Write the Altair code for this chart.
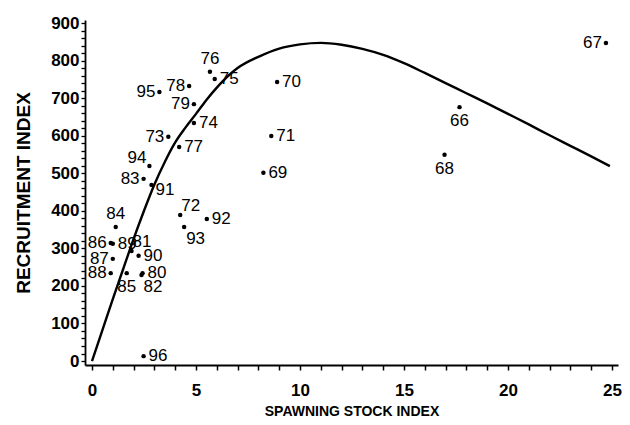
import altair as alt
import pandas as pd

# ---- data ----
years = ["67", "66", "68", "70", "71", "69", "76", "75", "95", "78", "79", "74",
         "73", "77", "94", "83", "91", "84", "72", "92", "93", "86", "89", "81",
         "90", "87", "88", "85", "80", "82", "96"]
spawning = [24.71, 17.67, 16.95, 8.90, 8.62, 8.24, 5.67, 5.90, 3.24, 4.67, 4.90, 4.90,
            3.67, 4.19, 2.76, 2.48, 2.86, 1.14, 4.24, 5.52, 4.43, 0.90, 1.00, 1.90,
            2.24, 1.00, 0.90, 1.67, 2.43, 2.38, 2.48]
recruitment = [847, 676, 549, 743, 599, 501, 770, 751, 716, 732, 684, 634,
               597, 570, 519, 485, 469, 357, 389, 378, 357, 314, 312, 293,
               280, 272, 234, 234, 234, 229, 13]

curve_S = [0, 0.5, 1, 1.5, 2, 2.5, 3, 3.5, 4, 4.5, 5, 5.5, 6, 7, 8, 9, 10, 11,
           12, 13, 14, 15, 16, 17, 18, 19, 20, 21, 22, 23, 24, 24.9]
curve_R = [0, 82, 165, 245, 325, 400, 470, 530, 582, 622, 658, 695, 728, 780,
           810, 832, 843, 847, 842, 831, 815, 793, 767, 740, 713, 686, 658, 630,
           601, 573, 545, 519]

x_major = [0, 5, 10, 15, 20, 25]
y_major = [0, 100, 200, 300, 400, 500, 600, 700, 800, 900]

# label placement groups (which side of its dot each year label sits)
left_labels = ["67", "95", "78", "79", "73", "83", "86", "87", "88"]
right_labels = ["70", "71", "69", "75", "74", "77", "92", "90", "80", "96", "89"]
above_labels = ["76", "84"]
below_labels = ["66", "68", "85"]
upper_left_labels = ["94"]
upper_right_labels = ["72", "81"]
lower_right_labels = ["93", "82"]
right_low_labels = ["91"]

pts = pd.DataFrame({"year": years, "S": spawning, "R": recruitment})
curve = pd.DataFrame({"S": curve_S, "R": curve_R})

x_ticks = list(range(0, 26))          # minor ticks every unit
y_ticks = list(range(0, 901, 20))     # minor ticks every 20

FONT = "Liberation Sans"

xscale = alt.Scale(domain=[-0.337, 25.29], nice=False, zero=False)
yscale = alt.Scale(domain=[-10.6, 908], nice=False, zero=False)

x_label_expr = "indexof([" + ",".join(str(v) for v in x_major) + "], datum.value) >= 0 ? datum.label : ''"
y_label_expr = "indexof([" + ",".join(str(v) for v in y_major) + "], datum.value) >= 0 ? datum.label : ''"

xaxis = alt.Axis(
    values=x_ticks,
    labelExpr=x_label_expr,
    labelOverlap=False,
    title="SPAWNING STOCK INDEX",
    titleFont=FONT, titleFontSize=14, titleFontWeight="bold", titleColor="black",
    titlePadding=6,
    labelFont=FONT, labelFontSize=17, labelFontWeight="bold", labelColor="black",
    labelPadding=12, labelFlush=False,
    grid=False, domainColor="black", domainWidth=1.8,
    tickColor="black", tickSize=5, tickWidth=1.5,
)
yaxis = alt.Axis(
    values=y_ticks,
    labelExpr=y_label_expr,
    labelOverlap=False,
    title="RECRUITMENT INDEX",
    titleFont=FONT, titleFontSize=19, titleFontWeight="bold", titleColor="black",
    titlePadding=17,
    labelFont=FONT, labelFontSize=17, labelFontWeight="bold", labelColor="black",
    labelPadding=2, labelFlush=False,
    grid=False, domainColor="black", domainWidth=1.8,
    tickColor="black", tickSize=4, tickWidth=1.3,
)

X = alt.X("S:Q", scale=xscale, axis=xaxis)
Y = alt.Y("R:Q", scale=yscale, axis=yaxis)

base_pts = alt.Chart(pts)

line = alt.Chart(curve).mark_line(color="black", strokeWidth=2.4, interpolate="monotone").encode(
    x=X, y=Y,
)

dots = base_pts.mark_circle(color="black", size=20, opacity=1).encode(
    x=X, y=Y,
)

def labels(group, align, dx, dy):
    return base_pts.transform_filter(
        alt.FieldOneOfPredicate(field="year", oneOf=group)
    ).mark_text(
        align=align, baseline="middle", dx=dx, dy=dy,
        font=FONT, fontSize=17, color="black",
    ).encode(
        x=X, y=Y,
        text="year:N",
    )

layers = [
    line, dots,
    labels(left_labels, "right", -4, 0),
    labels(right_labels, "left", 5, 0),
    labels(above_labels, "center", 0, -13),
    labels(below_labels, "center", 0, 14),
    labels(upper_left_labels, "right", -3, -8),
    labels(upper_right_labels, "left", 1, -9),
    labels(lower_right_labels, "left", 2, 12),
    labels(right_low_labels, "left", 4, 5),
]

chart = alt.layer(*layers).properties(
    width=533, height=345,
    autosize=alt.AutoSizeParams(type="none"),
    padding={"left": 77, "top": 12, "right": 4, "bottom": 52},
    background="white",
).configure_view(stroke=None)

chart.save("out.html", embed_options={"renderer": "svg", "actions": False})
